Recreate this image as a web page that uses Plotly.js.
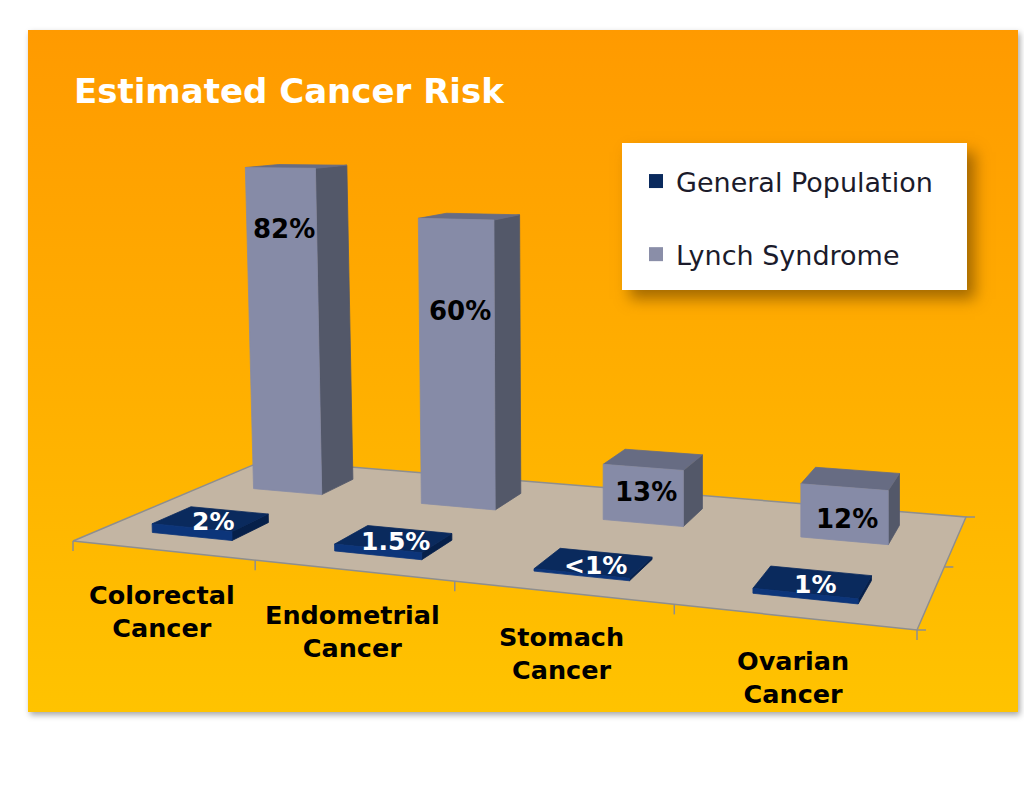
<!DOCTYPE html>
<html>
<head>
<meta charset="utf-8">
<script src="https://cdn.plot.ly/plotly-3.0.1.min.js"></script>
<style>
  html, body { margin: 0; padding: 0; background: #ffffff; }
  #wrap { position: relative; width: 1024px; height: 785px; overflow: hidden; }
  #bg { position: absolute; left: 28px; top: 30px; width: 990px; height: 682px;
        background: linear-gradient(to bottom, #FF9A00 0%, #FFAE00 50%, #FFC300 100%);
        box-shadow: 2px 3px 6px rgba(0,0,0,0.35); }
  #legbox { position: absolute; left: 622px; top: 143px; width: 345px; height: 147px;
        background: #ffffff; box-shadow: 8px 9px 14px rgba(90,55,0,0.55); }
  #chart { position: absolute; left: 0; top: 0; width: 1024px; height: 785px; }
</style>
</head>
<body>
<div id="wrap">
  <div id="bg"></div>
  <div id="legbox"></div>
  <div id="chart"></div>
</div>
<script>
// ---------------- DATA ----------------
const categories = ["Colorectal<br>Cancer", "Endometrial<br>Cancer", "Stomach<br>Cancer", "Ovarian<br>Cancer"];
const seriesNames = ["General Population", "Lynch Syndrome"];
const generalValues = [2, 1.5, 0.5, 1];
const generalLabels = ["2%", "1.5%", "<1%", "1%"];
const lynchValues = [82, 70, 13, 12];
const lynchLabels = ["82%", "60%", "13%", "12%"];

// ---------------- STYLE / CAMERA ----------------
const FONT = "DejaVu Sans, Verdana, sans-serif";
const FLOOR_CORNERS = { FL: [73, 541], FR: [917, 630], BR: [966, 517], BL: [265, 460] };
const VALUE_SCALE = 4.42;            // px per percentage point at unit depth
const BAR_HALF_U = [0.056, 0.052];   // half width of bars per row (front, back)
const ROW_CENTER_W = [0.235, 0.755]; // depth of series rows (front, back)
const BAR_HALF_W = [0.095, 0.1];
const lynchLabelHeightFrac = [0.81, 0.68, 0.55, 0.41];
const colors = {
  general: { front: "#0C357A", side: "#06204A", top: "#0A2A5D", legend: "#0A2A5D" },
  lynch:   { front: "#868BA7", side: "#535869", top: "#676C83", legend: "#8A8EA8" },
  floor: "#C3B5A3", edge: "#8E8E8E"
};

// homography from unit floor square (u along categories, w along depth) to plot units
const H = (function () {
  const [x0, y0] = FLOOR_CORNERS.FL, [x1, y1] = FLOOR_CORNERS.FR,
        [x2, y2] = FLOOR_CORNERS.BR, [x3, y3] = FLOOR_CORNERS.BL;
  const dx1 = x1 - x2, dx2 = x3 - x2, dx3 = x0 - x1 + x2 - x3;
  const dy1 = y1 - y2, dy2 = y3 - y2, dy3 = y0 - y1 + y2 - y3;
  const den = dx1 * dy2 - dx2 * dy1;
  const g = (dx3 * dy2 - dx2 * dy3) / den;
  const h = (dx1 * dy3 - dx3 * dy1) / den;
  return { a: x1 - x0 + g * x1, b: x3 - x0 + h * x3, c: x0,
           d: y1 - y0 + g * y1, e: y3 - y0 + h * y3, f: y0, g: g, h: h };
})();

function proj(u, w, v) {
  const den = H.g * u + H.h * w + 1;
  const x = (H.a * u + H.b * w + H.c) / den;
  const y = (H.d * u + H.e * w + H.f) / den;
  const hp = VALUE_SCALE * v / den;
  const lean = Math.max(0, 0.03 - 0.06 * u);
  return [x - lean * hp, y - hp];
}

const nCat = categories.length;
function addPoly(acc, pts) {
  pts.forEach(p => { acc.x.push(p[0]); acc.y.push(p[1]); });
  acc.x.push(pts[0][0]); acc.y.push(pts[0][1]);
  acc.x.push(null); acc.y.push(null);
}

function barTraces(values, row, col) {
  const front = { x: [], y: [] }, side = { x: [], y: [] }, top = { x: [], y: [] };
  values.forEach((v, i) => {
    const uc = (i + 0.5) / nCat, u0 = uc - BAR_HALF_U[row], u1 = uc + BAR_HALF_U[row];
    const wc = ROW_CENTER_W[row], w0 = wc - BAR_HALF_W[row], w1 = wc + BAR_HALF_W[row];
    const b = (u, w) => proj(u, w, 0), t = (u, w) => proj(u, w, v);
    addPoly(side, [b(u1, w0), b(u1, w1), t(u1, w1), t(u1, w0)]);
    addPoly(top, [t(u0, w0), t(u1, w0), t(u1, w1), t(u0, w1)]);
    addPoly(front, [b(u0, w0), b(u1, w0), t(u1, w0), t(u0, w0)]);
  });
  const mk = (p, c) => ({ type: "scatter", mode: "lines", x: p.x, y: p.y, fill: "toself",
    fillcolor: c, line: { color: c, width: 0.8 }, hoverinfo: "skip", showlegend: false });
  return [mk(side, col.side), mk(top, col.top), mk(front, col.front)];
}

// floor
const floorPts = [proj(0, 0, 0), proj(1, 0, 0), proj(1, 1, 0), proj(0, 1, 0)];
const floor = { x: [], y: [] };
addPoly(floor, floorPts);
const floorTrace = { type: "scatter", mode: "lines", x: floor.x, y: floor.y, fill: "toself",
  fillcolor: colors.floor, line: { color: colors.edge, width: 1.5 }, hoverinfo: "skip", showlegend: false };

// tick marks
const ticks = { x: [], y: [] };
for (let k = 0; k <= nCat; k++) {
  const p = proj(k / nCat, 0, 0);
  ticks.x.push(p[0], p[0], null); ticks.y.push(p[1], p[1] + 10, null);
}
[0, 0.5, 1].forEach(w => {
  const p = proj(1, w, 0);
  ticks.x.push(p[0], p[0] + 9, null); ticks.y.push(p[1], p[1], null);
});
const tickTrace = { type: "scatter", mode: "lines", x: ticks.x, y: ticks.y,
  line: { color: colors.edge, width: 1.5 }, hoverinfo: "skip", showlegend: false };

const legendTraces = [
  { type: "scatter", mode: "markers", x: [null], y: [null], name: seriesNames[0], legendgroup: "g0",
    marker: { symbol: "square", size: 14, color: colors.general.legend }, hoverinfo: "skip" },
  { type: "scatter", mode: "markers", x: [null], y: [null], name: seriesNames[1], legendgroup: "g1",
    marker: { symbol: "square", size: 14, color: colors.lynch.legend }, hoverinfo: "skip" }
];

const data = [floorTrace, tickTrace]
  .concat(barTraces(lynchValues, 1, colors.lynch))
  .concat(barTraces(generalValues, 0, colors.general))
  .concat(legendTraces);

// annotations
const annotations = [];
categories.forEach((c, i) => {
  const p = proj((i + 0.5) / nCat, 0, 0);
  annotations.push({ x: p[0], y: p[1], xref: "x", yref: "y", text: c, showarrow: false,
    yshift: -61, align: "center", font: { family: FONT, size: 25.5, color: "#000000", weight: "bold" } });
});
lynchValues.forEach((v, i) => {
  const p = proj((i + 0.5) / nCat, ROW_CENTER_W[1] - BAR_HALF_W[1], v * lynchLabelHeightFrac[i]);
  annotations.push({ x: p[0] + 3, y: p[1], xref: "x", yref: "y", text: lynchLabels[i], showarrow: false,
    font: { family: FONT, size: 26, color: "#000000", weight: "bold" } });
});
generalValues.forEach((v, i) => {
  const p = proj((i + 0.5) / nCat, ROW_CENTER_W[0], v);
  annotations.push({ x: p[0] + 2, y: p[1], xref: "x", yref: "y", text: generalLabels[i], showarrow: false,
    yshift: -3, font: { family: FONT, size: 25, color: "#ffffff", weight: "bold" } });
});

const layout = {
  width: 1024, height: 785,
  margin: { l: 0, r: 0, t: 0, b: 0 },
  paper_bgcolor: "rgba(0,0,0,0)", plot_bgcolor: "rgba(0,0,0,0)",
  title: { text: "Estimated Cancer Risk", x: 74 / 1024, xanchor: "left", y: 1 - 91 / 785, yanchor: "middle",
    font: { family: FONT, size: 34, color: "#ffffff", weight: "bold" } },
  xaxis: { range: [0, 1024], visible: false, fixedrange: true },
  yaxis: { range: [785, 0], visible: false, fixedrange: true },
  showlegend: true,
  legend: { x: 636 / 1024, y: 1 - 157 / 785, xanchor: "left", yanchor: "top",
    bgcolor: "rgba(0,0,0,0)", borderwidth: 0, traceorder: "grouped", tracegroupgap: 35,
    itemsizing: "trace", font: { family: FONT, size: 27, color: "#1b1b2b" } },
  annotations: annotations
};

Plotly.newPlot("chart", data, layout, { displayModeBar: false, staticPlot: true });
</script>
</body>
</html>
